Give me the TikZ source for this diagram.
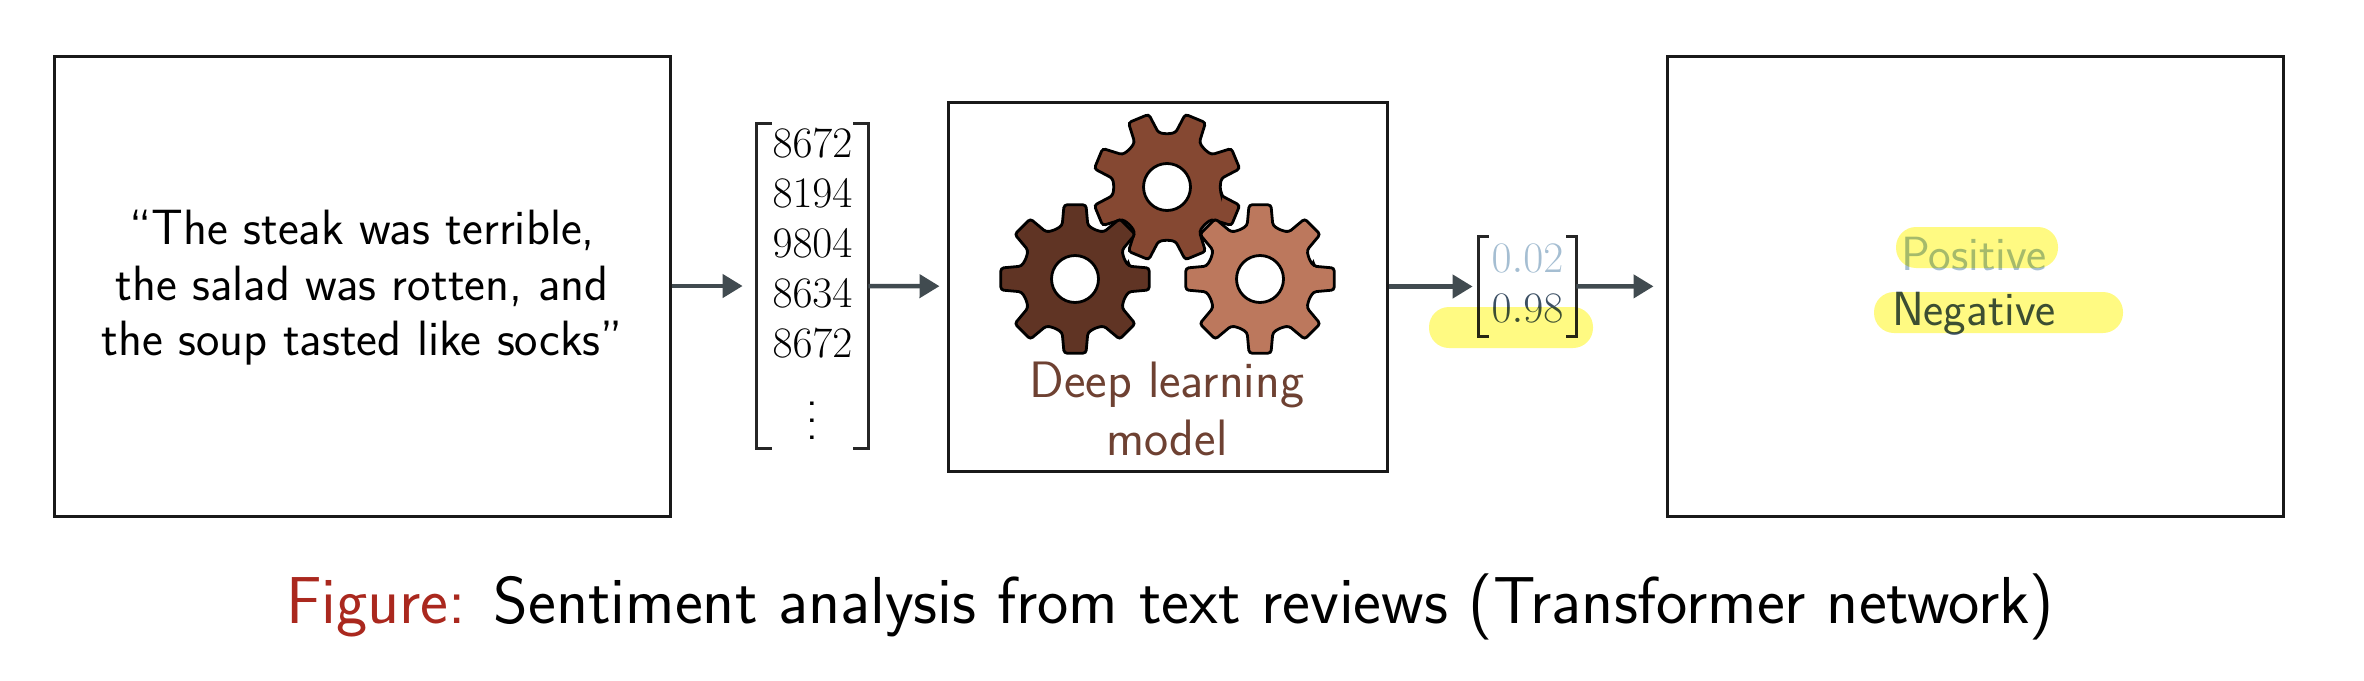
\documentclass[tikz,border=0pt]{standalone}
\usetikzlibrary{arrows.meta}
\usepackage{amsmath}
\definecolor{arrowgrey}{RGB}{65,75,80}
\definecolor{gearone}{RGB}{96,52,36}
\definecolor{geartwo}{RGB}{133,72,50}
\definecolor{gearthree}{RGB}{188,120,93}
\definecolor{modeltext}{RGB}{110,65,50}
\definecolor{lowscore}{RGB}{165,190,210}
\definecolor{highscore}{RGB}{60,80,100}
\definecolor{marker}{RGB}{255,250,130}
\definecolor{figred}{RGB}{170,40,30}
\tikzset{
	framebox/.style={draw=black!90, line width=1.5pt, inner sep=0pt},
	flow/.style={draw=arrowgrey, line width=2.2pt, -{Triangle[length=10pt,width=11.5pt]}},
	bracketline/.style={draw=black!85, line width=1.3pt},
	digits/.style={inner sep=0pt, scale=1.05, font=\fontsize{20.74}{25}\selectfont},
	marked/.style={fill=marker, rounded corners=10pt},
	wordlabel/.style={anchor=base, font=\sffamily\fontsize{24}{28}\selectfont},
}
\newcommand{\gearwheel}[4]{%
	\filldraw[fill=#4, draw=black, line width=1.4pt, rounded corners=1.5pt, shift={(#1,#2)}]
		(#3-13.5:55) \foreach \a in {0,45,...,315} {
			-- (#3+\a-13.5:55) -- (#3+\a-8.4:75) -- (#3+\a+8.4:75) -- (#3+\a+13.5:55) -- (#3+\a+22.5:53)
		} -- cycle;
	\filldraw[fill=white, draw=black, line width=1.4pt] (#1,#2) circle (23.5);
}
\begin{document}
\begin{tikzpicture}[x=0.5pt, y=-0.5pt, every node/.style={font=\sffamily}]
	\useasboundingbox (0,0) rectangle (2364,680);
	% boxes
	\node[framebox, minimum width=308pt, minimum height=230pt] (review) at (362,286) {};
	\node[align=center, font=\sffamily\fontsize{24.8}{27.7}\selectfont] (reviewtext) at (362,288) {``The steak was terrible,\\the salad was rotten, and\\the soup tasted like socks''};
	\node[framebox, minimum width=219.5pt, minimum height=184.5pt] (model) at (1167.5,286.5) {};
	\node[framebox, minimum width=308pt, minimum height=230pt] (output) at (1975,286) {};
	% token vector
	\node[minimum width=55.5pt, minimum height=162pt, inner sep=0pt] (tokens) at (812.5,286) {};
	\draw[bracketline] ([xshift=7.5pt]tokens.north west) -- (tokens.north west) -- (tokens.south west) -- ([xshift=7.5pt]tokens.south west);
	\draw[bracketline] ([xshift=-7.5pt]tokens.north east) -- (tokens.north east) -- (tokens.south east) -- ([xshift=-7.5pt]tokens.south east);
	\node[digits] (t1) at (812.5,143) {$8672$};
	\node[digits] (t2) at (812.5,193) {$8194$};
	\node[digits] (t3) at (812.5,243) {$9804$};
	\node[digits] (t4) at (812.5,293) {$8634$};
	\node[digits] (t5) at (812.5,343) {$8672$};
	\node[inner sep=0pt, scale=2.1] (t6) at (812.5,408) {$\vdots$};
	% gears
	\gearwheel{1167}{187}{22.5}{geartwo}
	\gearwheel{1075}{279}{0}{gearone}
	\gearwheel{1260}{279}{0}{gearthree}
	\node[text=modeltext, align=center, font=\sffamily\fontsize{25.6}{29}\selectfont] (modellabel) at (1167,409) {Deep learning\\model};
	% score vector
	\node[minimum width=48.5pt, minimum height=49.5pt, inner sep=0pt] (scores) at (1527.5,286.5) {};
	\draw[bracketline] ([xshift=5pt]scores.north west) -- (scores.north west) -- (scores.south west) -- ([xshift=5pt]scores.south west);
	\draw[bracketline] ([xshift=-5pt]scores.north east) -- (scores.north east) -- (scores.south east) -- ([xshift=-5pt]scores.south east);
	\node[digits, text=lowscore] (s1) at (1527.5,258) {$0.02$};
	\node[digits, text=highscore] (s2) at (1527.5,308) {$0.98$};
	% labels
	\node[wordlabel, text=lowscore] (positive) at (1974,270) {Positive};
	\node[wordlabel, text=highscore] (negative) at (1974,325) {Negative};
	% marker
	\begin{scope}[blend mode=multiply]
		\fill[marked] (1429,307) rectangle (1593,348);
		\fill[marked] (1896,227) rectangle (2058,268);
		\fill[marked] (1874,292) rectangle (2123,333);
	\end{scope}
	% arrows
	\draw[flow, shorten >=7pt] (review) -- (tokens);
	\draw[flow, shorten >=3.5pt] (tokens) -- (model);
	\draw[flow, shorten >=3pt] (model) -- (scores);
	\draw[flow, shorten >=6pt] (scores) -- (output);
	% caption
	\node[anchor=base, font=\sffamily\fontsize{33.2}{38}\selectfont] (caption) at (1170,623) {\textcolor{figred}{Figure:} Sentiment analysis from text reviews (Transformer network)};
\end{tikzpicture}
\end{document}
